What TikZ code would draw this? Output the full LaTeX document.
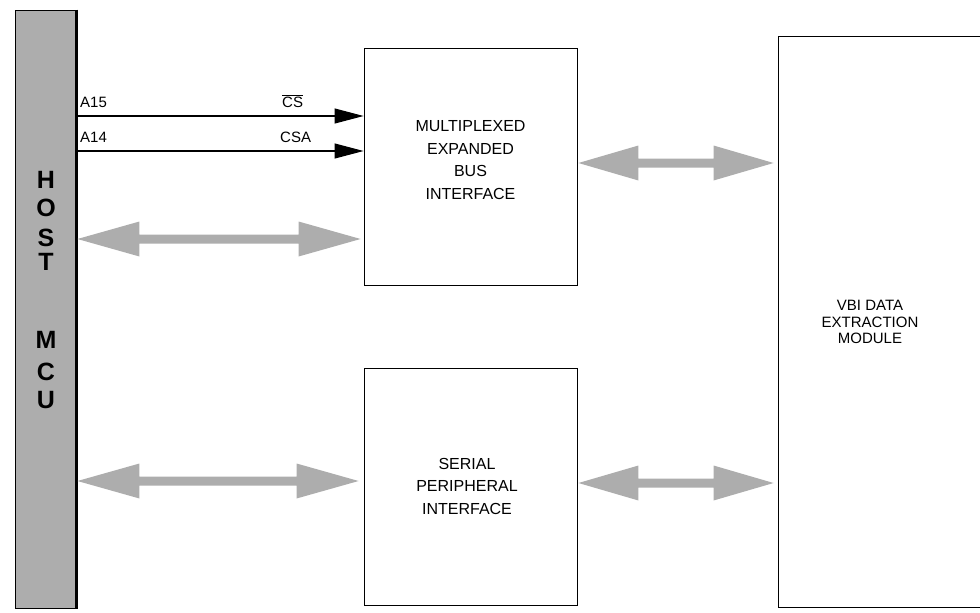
\documentclass[tikz,border=0pt]{standalone}
\usepackage{fontspec}
\setmainfont{Liberation Sans}
\usetikzlibrary{arrows.meta,calc}

% wide shaded bus arrow with a head at each end
\newcommand\busarrow[3]{% #1 left end, #2 right end, #3 head length
  \fill[bus] let \p1=(#1), \p2=(#2) in
    (\x1,\y1) -- (\x1+#3,\y1+17.5pt) -- (\x1+#3,\y1+4.5pt) -- (\x2-#3,\y1+4.5pt)
    -- (\x2-#3,\y1+17.5pt) -- (\x2,\y1) -- (\x2-#3,\y1-17.5pt) -- (\x2-#3,\y1-4.5pt)
    -- (\x1+#3,\y1-4.5pt) -- (\x1+#3,\y1-17.5pt) -- cycle;
}

\begin{document}
\begin{tikzpicture}[x=1pt,y=-1pt,
  bus/.style={fill=black!32},
  blk/.style={draw=black,line width=0.9pt,fill=white,inner sep=0pt},
  sig/.style={line width=1.1pt,-{Triangle[length=29pt,width=15pt]}},
  lbl/.style={font=\fontsize{15}{15}\selectfont,anchor=base west,inner sep=0pt},
  boxtxt/.style={font=\fontsize{16}{22.5}\selectfont,align=center,inner sep=0pt},
  hostletter/.style={font=\fontsize{25}{25}\bfseries,inner sep=0pt},
]
\clip (0,0) rectangle (980,613);
\fill[white] (0,0) rectangle (980,613);

% host processor bar
\node[draw=black,fill=black!32,line width=0.9pt,minimum width=62pt,minimum height=598pt,inner sep=0pt] (host) at (46,309) {};
\draw[line width=3pt] ([xshift=-1pt]host.north east) -- ([xshift=-1pt]host.south east);
\foreach \ch/\yy in {H/180,O/208,S/238,T/262,M/340,C/372,U/400}
  \node[hostletter] at (46,\yy) {\ch};

% function blocks
\node[blk,minimum width=213pt,minimum height=237pt] (mebi) at (470.5,166.5) {};
\node[boxtxt] at (470.5,160) {MULTIPLEXED\\EXPANDED\\BUS\\INTERFACE};
\node[blk,minimum width=213pt,minimum height=237pt] (spi) at (470.5,486.5) {};
\node[boxtxt] at (467,486) {SERIAL\\PERIPHERAL\\INTERFACE};
\node[blk,minimum width=217pt,minimum height=571pt] (vbi) at (886.5,321.5) {};
\node[boxtxt,font=\fontsize{15}{16.5}\selectfont] at (870,322) {VBI DATA\\EXTRACTION\\MODULE};

% chip-select lines
\draw[sig] (host.east |- 0,116) -- (mebi.west |- 0,116);
\draw[sig] (host.east |- 0,151) -- (mebi.west |- 0,151);
\node[lbl] at (80,107) {A15};
\node[lbl] at (282,107) {\(\overline{\mbox{CS}}\)};
\node[lbl] at (80,142) {A14};
\node[lbl] at (280,142) {CSA};

% data buses
\busarrow{host.east |- 0,239}{$(mebi.west |- 0,239)+(-3,0)$}{62pt}
\busarrow{host.east |- 0,481}{$(spi.west |- 0,481)+(-5,0)$}{62pt}
\busarrow{$(mebi.east |- 0,163)+(1,0)$}{$(vbi.west |- 0,163)+(-4,0)$}{60pt}
\busarrow{$(spi.east |- 0,483)+(1,0)$}{$(vbi.west |- 0,483)+(-4,0)$}{60pt}
\end{tikzpicture}
\end{document}
